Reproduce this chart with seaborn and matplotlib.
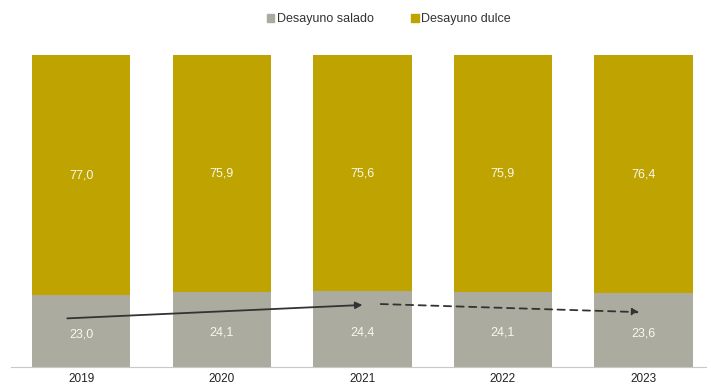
import pandas as pd
import seaborn as sns
import matplotlib.pyplot as plt
from matplotlib.patches import Patch

# data (%)
years = ["2019", "2020", "2021", "2022", "2023"]
salado = [23.0, 24.1, 24.4, 24.1, 23.6]
dulce = [77.0, 75.9, 75.6, 75.9, 76.4]

gray = "#ABAB9F"
gold = "#BFA300"

df = pd.DataFrame({"year": years, "salado": salado, "dulce": dulce})
df["total"] = df.salado + df.dulce

sns.set_style("white")
plt.rcParams['font.family'] = ['Liberation Sans', 'DejaVu Sans']

fig = plt.figure(figsize=(7.07, 3.88), dpi=100)
ax = fig.add_axes([0.0156, 0.054, 0.994, 0.804])

# stacked: full bar in gold, salado part drawn over it
sns.barplot(data=df, x="year", y="total", color=gold, width=0.7,
            saturation=1, linewidth=0, ax=ax)
sns.barplot(data=df, x="year", y="salado", color=gray, width=0.7,
            saturation=1, linewidth=0, ax=ax)

for i, (s, d) in enumerate(zip(salado, dulce)):
    ax.text(i, s / 2 - 1, f"{s:.1f}".replace(".", ","), ha="center", va="center",
            color="#F8F8F0", fontsize=9)
    ax.text(i, s + d / 2, f"{d:.1f}".replace(".", ","), ha="center", va="center",
            color="#F8F8F0", fontsize=9)

# trend arrows
ax.annotate("", xy=(2.0, 19.9), xytext=(-0.1, 15.6),
            arrowprops=dict(arrowstyle="-|>", color="#333333", lw=1.3,
                            mutation_scale=10, shrinkA=0, shrinkB=0))
ax.annotate("", xy=(3.97, 17.6), xytext=(2.13, 20.2),
            arrowprops=dict(arrowstyle="-|>", color="#333333", lw=1.3,
                            linestyle=(0, (4, 3)), mutation_scale=10,
                            shrinkA=0, shrinkB=0))

ax.set_xlim(-0.5, 4.5)
ax.set_ylim(0, 100)
ax.set_xlabel("")
ax.set_ylabel("")
ax.set_yticks([])
for sp in ["top", "right", "left"]:
    ax.spines[sp].set_visible(False)
ax.spines["bottom"].set_color("#C8C8C8")
ax.spines["bottom"].set_linewidth(0.8)
ax.tick_params(axis="x", which="major", length=0, labelsize=8.5,
               labelcolor="#222222", pad=4)
ax.set_xticks([-0.5, 0.5, 1.5, 2.5, 3.5], minor=True)
ax.tick_params(axis="x", which="minor", length=3, color="#C8C8C8")

handles = [Patch(color=gray, label="Desayuno salado"),
           Patch(color=gold, label="Desayuno dulce")]
fig.legend(handles=handles, loc="center", bbox_to_anchor=(0.55, 0.951), ncol=2,
           frameon=False, fontsize=9, handlelength=0.6, handleheight=0.6,
           handletextpad=0.2, columnspacing=3.0, labelcolor="#333333")

fig.savefig("out.png", dpi=100)
